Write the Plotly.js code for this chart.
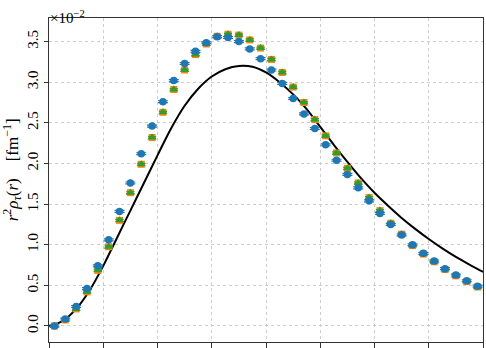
<!DOCTYPE html>
<html>
<head>
<meta charset="utf-8">
<script src="https://cdn.plot.ly/plotly-3.0.1.min.js"></script>
<style>
  html, body { margin: 0; padding: 0; background: #fff; }
  #density_plot { width: 486px; height: 348px; }
</style>
</head>
<body>
<div id="density_plot"></div>
<script>
// radius r [fm] of the sampled points
var rPts = [0.1, 0.3, 0.5, 0.7, 0.9, 1.1, 1.3, 1.5, 1.7, 1.9,
	2.1, 2.3, 2.5, 2.7, 2.9, 3.1, 3.3, 3.5, 3.7, 3.9,
	4.1, 4.3, 4.5, 4.7, 4.9, 5.1, 5.3, 5.5, 5.7, 5.9,
	6.1, 6.3, 6.5, 6.7, 6.9, 7.1, 7.3, 7.5, 7.7, 7.9];

// values in units of 1e-2 fm^-1
var orangeVals = [0.00, 0.074, 0.21, 0.42, 0.685, 0.975, 1.30, 1.64, 1.99, 2.32,
	2.63, 2.91, 3.15, 3.34, 3.47, 3.565, 3.59, 3.58, 3.52, 3.42,
	3.28, 3.12, 2.94, 2.75, 2.54, 2.34, 2.13, 1.94, 1.76, 1.58,
	1.42, 1.265, 1.13, 0.99, 0.885, 0.79, 0.695, 0.617, 0.547, 0.48];

var greenVals = [0.00, 0.074, 0.21, 0.42, 0.685, 0.975, 1.30, 1.64, 1.99, 2.32,
	2.63, 2.91, 3.15, 3.34, 3.47, 3.565, 3.59, 3.58, 3.52, 3.42,
	3.28, 3.12, 2.94, 2.75, 2.54, 2.34, 2.13, 1.94, 1.76, 1.58,
	1.42, 1.265, 1.13, 0.99, 0.885, 0.79, 0.695, 0.617, 0.547, 0.48];

var blueVals = [0.00, 0.086, 0.24, 0.46, 0.74, 1.06, 1.41, 1.76, 2.12, 2.46,
	2.76, 3.02, 3.23, 3.38, 3.485, 3.56, 3.55, 3.50, 3.41, 3.29,
	3.15, 2.985, 2.80, 2.61, 2.43, 2.23, 2.04, 1.865, 1.70, 1.54,
	1.385, 1.25, 1.12, 1.00, 0.894, 0.80, 0.705, 0.627, 0.557, 0.49];

// reference curve
var rLine = [0, 0.25, 0.5, 0.75, 1.0, 1.25, 1.5, 1.75, 2.0, 2.25,
	2.5, 2.75, 3.0, 3.25, 3.5, 3.75, 4.0, 4.25, 4.5, 4.75,
	5.0, 5.25, 5.5, 5.75, 6.0, 6.25, 6.5, 6.75, 7.0, 7.25,
	7.5, 7.75, 8.0];
var lineVals = [0, 0.06, 0.21, 0.44, 0.74, 1.08, 1.42, 1.76, 2.10, 2.43,
	2.71, 2.92, 3.07, 3.16, 3.20, 3.19, 3.12, 3.00, 2.85, 2.67,
	2.45, 2.23, 2.02, 1.82, 1.64, 1.48, 1.33, 1.195, 1.07, 0.955,
	0.85, 0.755, 0.665];

var yTicks = [0, 0.5, 1.0, 1.5, 2.0, 2.5, 3.0, 3.5];
var yTickText = ['0.0', '0.5', '1.0', '1.5', '2.0', '2.5', '3.0', '3.5'];

var curve = {
	x: rLine,
	y: lineVals,
	mode: 'lines',
	line: {color: '#000000', width: 2, shape: 'spline', smoothing: 0.8},
	type: 'scatter'
};

var orange = {
	x: rPts,
	y: orangeVals,
	mode: 'markers',
	marker: {symbol: 'square', size: 7, color: '#ff7f0e'},
	error_y: {type: 'constant', value: 0.012, width: 4, thickness: 1.2, color: '#ff7f0e'},
	type: 'scatter'
};

var green = {
	x: rPts,
	y: greenVals,
	mode: 'markers',
	marker: {symbol: 'triangle-up', size: 8, color: '#2ca02c'},
	error_y: {type: 'constant', value: 0.012, width: 4, thickness: 1.2, color: '#2ca02c'},
	type: 'scatter'
};

var blue = {
	x: rPts,
	y: blueVals,
	mode: 'markers',
	marker: {symbol: 'circle', size: 7.5, color: '#1f77b4'},
	error_y: {type: 'constant', value: 0.012, width: 5, thickness: 1.2, color: '#1f77b4'},
	type: 'scatter'
};

var data = [curve, orange, green, blue];

var serif = 'Liberation Serif, DejaVu Serif, serif';

var layout = {
	width: 486,
	height: 348,
	showlegend: false,
	paper_bgcolor: '#ffffff',
	plot_bgcolor: '#ffffff',
	margin: {l: 49, r: 3, t: 18, b: 6, pad: 0},
	font: {family: serif, size: 14, color: '#000000'},
	xaxis: {
		range: [0, 8],
		dtick: 1,
		tick0: 0,
		showticklabels: false,
		ticks: 'outside',
		ticklen: 7,
		tickcolor: '#333333',
		showgrid: true,
		gridcolor: '#cccccc',
		griddash: 'dot',
		gridwidth: 1,
		zeroline: false,
		showline: true,
		linecolor: '#333333',
		linewidth: 1.2,
		mirror: true
	},
	yaxis: {
		range: [-0.197, 3.79],
		tickvals: yTicks,
		ticktext: yTickText,
		tickangle: -90,
		ticks: 'outside',
		ticklen: 4,
		tickcolor: '#333333',
		tickfont: {family: serif, size: 15},
		showgrid: true,
		gridcolor: '#cccccc',
		griddash: 'dot',
		gridwidth: 1,
		zeroline: false,
		showline: true,
		linecolor: '#333333',
		linewidth: 1.2,
		mirror: true
	},
	annotations: [
		{
			text: '×10<sup>−2</sup>',
			xref: 'paper', yref: 'paper',
			x: 0, y: 1,
			xanchor: 'left', yanchor: 'bottom',
			yshift: -9,
			borderpad: 0,
			showarrow: false,
			font: {family: serif, size: 15}
		},
		{
			text: '<i>r</i><sup>2</sup><i>ρ</i><sub><i>τ</i></sub>(<i>r</i>)    [fm<sup>−1</sup>]',
			xref: 'paper', yref: 'paper',
			x: 0, y: 0.53,
			xanchor: 'center', yanchor: 'middle',
			xshift: -37,
			textangle: -90,
			showarrow: false,
			font: {family: serif, size: 17}
		}
	]
};

Plotly.newPlot('density_plot', data, layout, {displayModeBar: false, staticPlot: true});
</script>
</body>
</html>
